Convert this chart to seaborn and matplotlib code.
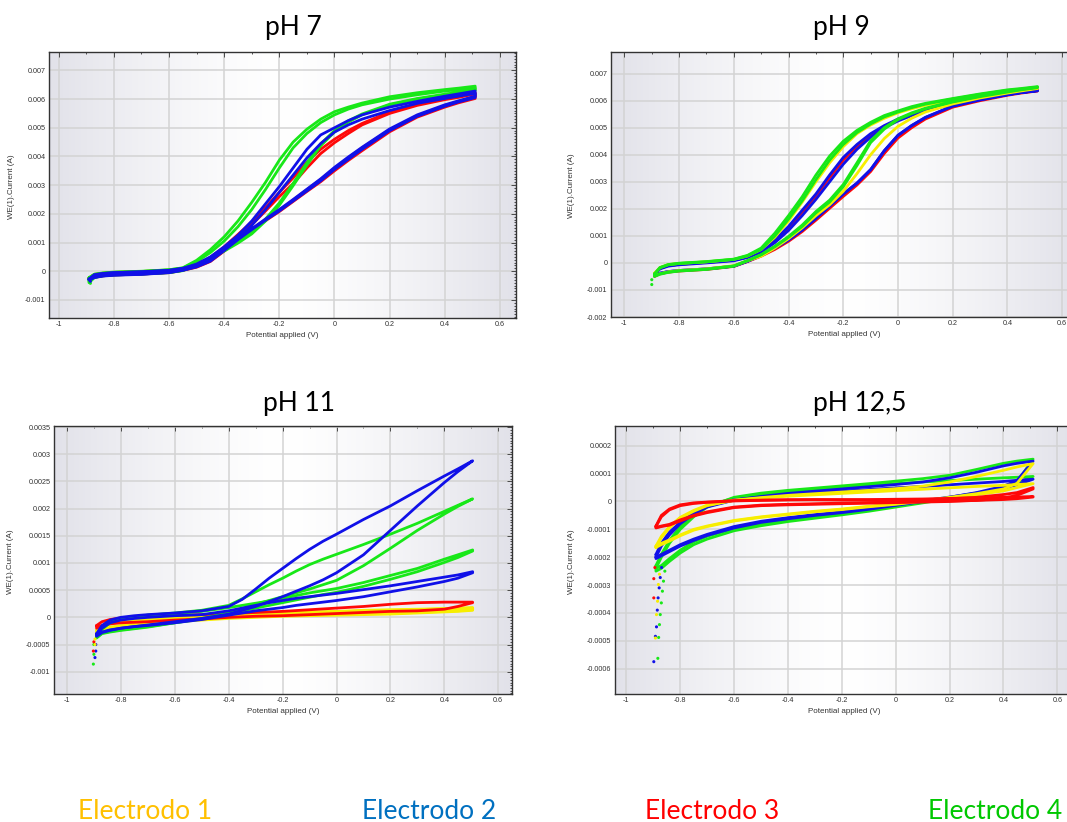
import numpy as np
import pandas as pd
import matplotlib
matplotlib.use("Agg")
import matplotlib.pyplot as plt
from matplotlib.ticker import MultipleLocator, AutoMinorLocator, FuncFormatter
import seaborn as sns

sns.set_theme(style="white")
plt.rcParams["font.family"] = ["Liberation Sans", "DejaVu Sans"]

# Potential grids (V) shared by the forward / reverse branches
E_hi = [-0.89, -0.87, -0.84, -0.8, -0.7, -0.6, -0.55, -0.5, -0.45, -0.4, -0.35, -0.3, -0.25,
        -0.2, -0.15, -0.1, -0.05, 0.0, 0.05, 0.1, 0.2, 0.3, 0.4, 0.45, 0.51]
E_11 = [-0.89, -0.87, -0.84, -0.8, -0.75, -0.7, -0.6, -0.5, -0.4, -0.35, -0.3, -0.25, -0.2,
        -0.15, -0.1, -0.05, 0.0, 0.1, 0.2, 0.3, 0.4, 0.45, 0.505]
E_lo = [-0.89, -0.87, -0.84, -0.8, -0.75, -0.7, -0.6, -0.5, -0.4, -0.3, -0.2, -0.1, 0.0,
        0.1, 0.2, 0.3, 0.4, 0.45, 0.51]

# ---- pH 7 currents (mA), upper / lower branch ----
ph7_green_up_a = [-0.25, -0.12, -0.07, -0.04, -0.01, 0.05, 0.12, 0.38, 0.75, 1.2, 1.75, 2.4, 3.1, 3.87, 4.5, 4.95, 5.3, 5.56, 5.72, 5.86, 6.08, 6.22, 6.33, 6.38, 6.45]
ph7_green_dn_a = [-0.4, -0.22, -0.16, -0.13, -0.1, -0.05, 0.02, 0.22, 0.45, 0.7, 0.98, 1.3, 1.75, 2.3, 2.98, 3.7, 4.37, 4.85, 5.2, 5.45, 5.8, 6.0, 6.15, 6.22, 6.3]
ph7_green_up_b = [-0.22, -0.1, -0.06, -0.03, 0.0, 0.05, 0.11, 0.33, 0.65, 1.05, 1.55, 2.15, 2.85, 3.6, 4.3, 4.8, 5.18, 5.45, 5.65, 5.8, 6.0, 6.15, 6.28, 6.33, 6.38]
ph7_green_dn_b = [-0.35, -0.2, -0.15, -0.12, -0.09, -0.04, 0.03, 0.24, 0.48, 0.74, 1.02, 1.36, 1.82, 2.38, 3.06, 3.78, 4.44, 4.9, 5.24, 5.48, 5.82, 6.02, 6.17, 6.24, 6.32]
ph7_blue_up_a = [-0.28, -0.13, -0.08, -0.05, -0.02, 0.03, 0.1, 0.25, 0.5, 0.85, 1.25, 1.75, 2.35, 2.95, 3.6, 4.25, 4.75, 5.0, 5.25, 5.45, 5.72, 5.92, 6.1, 6.18, 6.28]
ph7_blue_dn_a = [-0.3, -0.22, -0.17, -0.14, -0.11, -0.05, 0.03, 0.15, 0.35, 0.72, 1.1, 1.45, 1.78, 2.1, 2.45, 2.8, 3.15, 3.55, 3.9, 4.25, 4.9, 5.4, 5.75, 5.9, 6.05]
ph7_blue_up_b = [-0.27, -0.12, -0.08, -0.05, -0.02, 0.03, 0.1, 0.22, 0.45, 0.78, 1.15, 1.6, 2.15, 2.75, 3.35, 3.95, 4.45, 4.85, 5.1, 5.3, 5.6, 5.85, 6.02, 6.1, 6.2]
ph7_blue_dn_b = [-0.3, -0.21, -0.16, -0.13, -0.1, -0.04, 0.04, 0.17, 0.38, 0.75, 1.13, 1.48, 1.82, 2.15, 2.5, 2.86, 3.22, 3.62, 3.98, 4.32, 4.96, 5.45, 5.8, 5.94, 6.1]
ph7_red_up_a = [-0.25, -0.12, -0.08, -0.05, -0.02, 0.03, 0.1, 0.2, 0.45, 0.8, 1.2, 1.62, 2.1, 2.6, 3.05, 3.6, 4.1, 4.48, 4.8, 5.1, 5.5, 5.78, 5.98, 6.06, 6.18]
ph7_red_dn_a = [-0.28, -0.21, -0.16, -0.13, -0.1, -0.05, 0.03, 0.14, 0.34, 0.7, 1.08, 1.43, 1.76, 2.08, 2.43, 2.78, 3.12, 3.5, 3.86, 4.2, 4.86, 5.37, 5.72, 5.87, 6.02]
ph7_red_up_b = [-0.24, -0.11, -0.07, -0.04, -0.01, 0.04, 0.1, 0.22, 0.48, 0.85, 1.28, 1.72, 2.22, 2.75, 3.25, 3.8, 4.25, 4.6, 4.9, 5.15, 5.55, 5.82, 6.02, 6.1, 6.22]
ph7_red_dn_b = [-0.27, -0.2, -0.15, -0.12, -0.09, -0.04, 0.04, 0.16, 0.37, 0.73, 1.1, 1.46, 1.8, 2.12, 2.48, 2.84, 3.2, 3.58, 3.95, 4.3, 4.93, 5.42, 5.77, 5.92, 6.08]

# ---- pH 9 ----
ph9_green_up_a = [-0.42, -0.18, -0.06, -0.01, 0.05, 0.14, 0.28, 0.55, 1.1, 1.75, 2.45, 3.25, 3.95, 4.5, 4.9, 5.2, 5.45, 5.62, 5.78, 5.9, 6.08, 6.25, 6.4, 6.45, 6.52]
ph9_green_dn_a = [-0.5, -0.42, -0.35, -0.3, -0.24, -0.12, 0.08, 0.3, 0.6, 0.95, 1.35, 1.85, 2.25, 2.82, 3.6, 4.45, 4.95, 5.3, 5.52, 5.7, 5.95, 6.15, 6.32, 6.4, 6.48]
ph9_green_up_b = [-0.4, -0.17, -0.07, -0.02, 0.04, 0.13, 0.26, 0.5, 1.0, 1.62, 2.3, 3.08, 3.8, 4.38, 4.82, 5.14, 5.4, 5.58, 5.74, 5.87, 6.06, 6.23, 6.38, 6.43, 6.5]
ph9_green_dn_b = [-0.48, -0.4, -0.34, -0.29, -0.23, -0.11, 0.09, 0.31, 0.62, 0.98, 1.4, 1.9, 2.32, 2.9, 3.7, 4.52, 5.0, 5.33, 5.55, 5.72, 5.97, 6.17, 6.34, 6.42, 6.5]
ph9_yellow_up = [-0.38, -0.17, -0.06, -0.02, 0.04, 0.13, 0.26, 0.5, 0.95, 1.55, 2.25, 3.0, 3.7, 4.3, 4.78, 5.1, 5.35, 5.55, 5.7, 5.83, 6.03, 6.2, 6.35, 6.4, 6.47]
ph9_yellow_dn = [-0.48, -0.4, -0.33, -0.28, -0.22, -0.1, 0.08, 0.25, 0.55, 0.9, 1.3, 1.75, 2.15, 2.65, 3.3, 4.0, 4.6, 5.05, 5.35, 5.58, 5.88, 6.1, 6.28, 6.36, 6.45]
ph9_blue_up_a = [-0.4, -0.2, -0.1, -0.05, 0.02, 0.1, 0.22, 0.45, 0.85, 1.35, 1.95, 2.55, 3.25, 3.9, 4.38, 4.78, 5.08, 5.32, 5.5, 5.66, 5.9, 6.08, 6.25, 6.32, 6.38]
ph9_blue_up_b = [-0.42, -0.22, -0.12, -0.07, 0.0, 0.08, 0.2, 0.4, 0.75, 1.2, 1.75, 2.35, 3.0, 3.65, 4.2, 4.65, 5.0, 5.25, 5.45, 5.62, 5.87, 6.06, 6.23, 6.3, 6.36]
ph9_blue_dn = [-0.48, -0.38, -0.32, -0.28, -0.22, -0.12, 0.06, 0.28, 0.55, 0.85, 1.22, 1.65, 2.1, 2.55, 2.95, 3.45, 4.15, 4.72, 5.08, 5.38, 5.8, 6.03, 6.22, 6.3, 6.38]
ph9_red_up = [-0.4, -0.2, -0.1, -0.05, 0.02, 0.1, 0.22, 0.43, 0.82, 1.3, 1.88, 2.48, 3.15, 3.8, 4.3, 4.72, 5.04, 5.3, 5.48, 5.64, 5.88, 6.06, 6.24, 6.31, 6.37]
ph9_red_dn = [-0.5, -0.4, -0.34, -0.3, -0.24, -0.13, 0.05, 0.25, 0.5, 0.8, 1.16, 1.58, 2.02, 2.46, 2.88, 3.38, 4.05, 4.62, 5.0, 5.32, 5.76, 6.0, 6.2, 6.28, 6.36]

# ---- pH 11 ----
ph11_blue_up_a = [-0.3, -0.15, -0.05, 0.0, 0.03, 0.05, 0.08, 0.12, 0.2, 0.33, 0.52, 0.72, 0.9, 1.08, 1.25, 1.4, 1.53, 1.8, 2.05, 2.33, 2.6, 2.73, 2.88]
ph11_blue_dn_a = [-0.35, -0.28, -0.24, -0.2, -0.17, -0.14, -0.08, -0.02, 0.06, 0.13, 0.2, 0.29, 0.38, 0.48, 0.58, 0.69, 0.82, 1.15, 1.6, 2.05, 2.48, 2.68, 2.88]
ph11_blue_up_b = [-0.32, -0.2, -0.1, -0.05, -0.02, 0.0, 0.03, 0.05, 0.12, 0.17, 0.22, 0.27, 0.31, 0.35, 0.38, 0.41, 0.44, 0.51, 0.58, 0.66, 0.74, 0.78, 0.84]
ph11_blue_dn_b = [-0.33, -0.27, -0.23, -0.2, -0.17, -0.15, -0.1, -0.04, 0.04, 0.08, 0.12, 0.15, 0.18, 0.22, 0.25, 0.28, 0.31, 0.38, 0.47, 0.56, 0.66, 0.72, 0.82]
ph11_green_up_a = [-0.36, -0.22, -0.1, -0.03, 0.01, 0.04, 0.08, 0.13, 0.22, 0.34, 0.47, 0.6, 0.72, 0.85, 0.97, 1.07, 1.16, 1.34, 1.53, 1.73, 1.95, 2.06, 2.18]
ph11_green_dn_a = [-0.38, -0.3, -0.27, -0.24, -0.21, -0.18, -0.1, -0.02, 0.08, 0.16, 0.24, 0.31, 0.38, 0.45, 0.52, 0.6, 0.68, 0.95, 1.27, 1.6, 1.9, 2.04, 2.18]
ph11_green_up_b = [-0.34, -0.2, -0.09, -0.03, 0.01, 0.04, 0.07, 0.11, 0.18, 0.22, 0.26, 0.3, 0.35, 0.4, 0.45, 0.49, 0.53, 0.64, 0.77, 0.9, 1.07, 1.15, 1.24]
ph11_green_dn_b = [-0.37, -0.29, -0.26, -0.23, -0.2, -0.17, -0.1, -0.03, 0.06, 0.12, 0.17, 0.22, 0.27, 0.32, 0.37, 0.42, 0.46, 0.57, 0.7, 0.84, 1.01, 1.1, 1.22]
ph11_red_up = [-0.15, -0.08, -0.04, -0.01, 0.01, 0.02, 0.04, 0.05, 0.07, 0.08, 0.09, 0.1, 0.11, 0.125, 0.14, 0.155, 0.17, 0.2, 0.24, 0.27, 0.28, 0.28, 0.28]
ph11_red_dn = [-0.2, -0.15, -0.12, -0.1, -0.09, -0.08, -0.05, -0.03, 0.0, 0.01, 0.02, 0.025, 0.03, 0.04, 0.05, 0.06, 0.07, 0.09, 0.11, 0.12, 0.15, 0.2, 0.27]
ph11_yellow_up_a = [-0.25, -0.18, -0.12, -0.08, -0.06, -0.04, -0.01, 0.01, 0.03, 0.04, 0.05, 0.06, 0.07, 0.08, 0.09, 0.095, 0.1, 0.12, 0.13, 0.14, 0.16, 0.16, 0.17]
ph11_yellow_dn_a = [-0.3, -0.25, -0.2, -0.17, -0.14, -0.12, -0.08, -0.05, -0.02, -0.01, 0.0, 0.01, 0.02, 0.025, 0.03, 0.035, 0.04, 0.05, 0.06, 0.08, 0.1, 0.11, 0.13]
ph11_yellow_up_b = [-0.24, -0.16, -0.11, -0.07, -0.05, -0.03, 0.0, 0.02, 0.04, 0.05, 0.06, 0.07, 0.08, 0.09, 0.1, 0.105, 0.11, 0.13, 0.14, 0.15, 0.16, 0.17, 0.18]
ph11_yellow_dn_b = [-0.28, -0.23, -0.18, -0.15, -0.12, -0.1, -0.06, -0.03, 0.0, 0.01, 0.02, 0.028, 0.035, 0.04, 0.045, 0.05, 0.055, 0.065, 0.075, 0.09, 0.11, 0.12, 0.14]

# ---- pH 12,5 ----
ph12_green_up_a = [-0.24, -0.2, -0.15, -0.1, -0.055, -0.02, 0.015, 0.03, 0.04, 0.048, 0.056, 0.064, 0.073, 0.082, 0.094, 0.115, 0.137, 0.145, 0.152]
ph12_green_dn_a = [-0.25, -0.24, -0.215, -0.185, -0.155, -0.135, -0.105, -0.087, -0.072, -0.06, -0.048, -0.035, -0.02, -0.005, 0.01, 0.025, 0.045, 0.07, 0.152]
ph12_green_up_b = [-0.23, -0.19, -0.14, -0.09, -0.05, -0.015, 0.012, 0.025, 0.034, 0.042, 0.05, 0.057, 0.064, 0.07, 0.075, 0.08, 0.085, 0.087, 0.09]
ph12_green_dn_b = [-0.24, -0.23, -0.205, -0.175, -0.145, -0.125, -0.097, -0.08, -0.066, -0.054, -0.042, -0.03, -0.016, -0.002, 0.013, 0.03, 0.05, 0.065, 0.09]
ph12_blue_up_a = [-0.2, -0.16, -0.12, -0.08, -0.045, -0.02, 0.005, 0.018, 0.029, 0.037, 0.045, 0.053, 0.061, 0.07, 0.085, 0.105, 0.128, 0.137, 0.145]
ph12_blue_dn_a = [-0.205, -0.195, -0.18, -0.16, -0.14, -0.122, -0.095, -0.075, -0.062, -0.05, -0.04, -0.028, -0.014, 0.0, 0.015, 0.032, 0.055, 0.075, 0.145]
ph12_blue_up_b = [-0.19, -0.15, -0.11, -0.075, -0.04, -0.017, 0.006, 0.016, 0.025, 0.031, 0.037, 0.043, 0.049, 0.054, 0.06, 0.066, 0.072, 0.076, 0.08]
ph12_blue_dn_b = [-0.2, -0.19, -0.175, -0.155, -0.135, -0.118, -0.09, -0.071, -0.058, -0.047, -0.037, -0.025, -0.012, 0.002, 0.016, 0.03, 0.048, 0.06, 0.08]
ph12_yellow_up_a = [-0.165, -0.13, -0.095, -0.06, -0.035, -0.015, 0.005, 0.014, 0.022, 0.028, 0.034, 0.04, 0.046, 0.055, 0.07, 0.09, 0.112, 0.124, 0.136]
ph12_yellow_dn_a = [-0.16, -0.15, -0.138, -0.12, -0.1, -0.088, -0.068, -0.055, -0.045, -0.035, -0.027, -0.017, -0.008, 0.003, 0.015, 0.028, 0.045, 0.065, 0.136]
ph12_yellow_up_b = [-0.16, -0.125, -0.09, -0.057, -0.032, -0.013, 0.004, 0.012, 0.019, 0.024, 0.029, 0.034, 0.039, 0.044, 0.049, 0.054, 0.058, 0.061, 0.064]
ph12_yellow_dn_b = [-0.165, -0.155, -0.142, -0.123, -0.103, -0.09, -0.07, -0.057, -0.047, -0.037, -0.029, -0.019, -0.01, 0.001, 0.012, 0.024, 0.038, 0.05, 0.064]
ph12_red_up_a = [-0.09, -0.055, -0.03, -0.015, -0.007, -0.003, 0.002, 0.004, 0.006, 0.006, 0.005, 0.005, 0.005, 0.007, 0.01, 0.015, 0.025, 0.032, 0.05]
ph12_red_dn_a = [-0.095, -0.09, -0.085, -0.07, -0.052, -0.04, -0.022, -0.015, -0.012, -0.01, -0.008, -0.006, -0.004, -0.002, 0.0, 0.004, 0.012, 0.022, 0.045]
ph12_red_up_b = [-0.088, -0.05, -0.027, -0.012, -0.005, -0.002, 0.003, 0.005, 0.006, 0.007, 0.007, 0.007, 0.008, 0.009, 0.011, 0.013, 0.015, 0.016, 0.018]
ph12_red_dn_b = [-0.093, -0.088, -0.082, -0.066, -0.05, -0.037, -0.02, -0.013, -0.01, -0.008, -0.006, -0.004, -0.002, 0.0, 0.002, 0.004, 0.007, 0.01, 0.016]

# start-of-scan dots at the negative end (E in V, I in mA)
tail7_E = [-0.885, -0.885]
tail7_I = [-0.42, -0.35]
tail7_el = ["Electrodo 4", "Electrodo 2"]
tail9_E = [-0.9, -0.9]
tail9_I = [-0.62, -0.8]
tail9_el = ["Electrodo 4", "Electrodo 4"]
tail11_E = [-0.9, -0.9, -0.902, -0.893, -0.893, -0.896, -0.9, -0.902, -0.896, -0.896]
tail11_I = [-0.5, -0.68, -0.86, -0.5, -0.62, -0.74, -0.45, -0.62, -0.4, -0.5]
tail11_el = ["Electrodo 4"] * 3 + ["Electrodo 2"] * 3 + ["Electrodo 3"] * 2 + ["Electrodo 1"] * 2
tail12_E = [-0.898, -0.892, -0.888, -0.885, -0.882, -0.878, -0.874, -0.869,
            -0.883, -0.88, -0.877, -0.874, -0.87, -0.866, -0.862, -0.857, -0.851,
            -0.898, -0.898, -0.894,
            -0.892, -0.888, -0.884, -0.881, -0.877]
tail12_I = [-0.575, -0.484, -0.45, -0.39, -0.346, -0.31, -0.273, -0.237,
            -0.563, -0.488, -0.442, -0.406, -0.364, -0.322, -0.286, -0.25, -0.22,
            -0.346, -0.277, -0.237,
            -0.49, -0.406, -0.358, -0.298, -0.261]
tail12_el = ["Electrodo 2"] * 8 + ["Electrodo 4"] * 9 + ["Electrodo 3"] * 3 + ["Electrodo 1"] * 5

electrodes = ["Electrodo 1", "Electrodo 2", "Electrodo 3", "Electrodo 4"]
line_colors = {"Electrodo 1": "#f7ee00", "Electrodo 2": "#1010e8",
               "Electrodo 3": "#ff0808", "Electrodo 4": "#18e818"}
label_colors = ["#ffc000", "#0070c0", "#ff0000", "#00c800"]


def cycle(E, up, dn, electrode, tag):
    x = list(E) + list(E)[::-1] + [E[0]]
    y = list(up) + list(dn)[::-1] + [up[0]]
    return pd.DataFrame({"E": x, "I": np.array(y) * 1e-3, "electrode": electrode, "loop": tag})


def tails(E, I, el):
    return pd.DataFrame({"E": E, "I": np.array(I) * 1e-3, "electrode": el})


def fmt(v, _):
    return f"{round(v, 7) + 0.0:g}"


def style_axes(ax, xlim, ylim, ystep):
    # grey-white-grey background band like the instrument software
    u = np.linspace(0, 1, 256)
    w = 1 - np.abs(u - 0.5) ** 1.4 * 2 ** 1.4
    edge = np.array([0.885, 0.885, 0.915])
    rgb = edge[None, :] * (1 - w[:, None]) + w[:, None]
    ax.imshow(rgb[None, :, :], extent=[0, 1, 0, 1], transform=ax.transAxes,
              aspect="auto", interpolation="bilinear", zorder=0)
    ax.set_xlim(*xlim)
    ax.set_ylim(*ylim)
    ax.xaxis.set_major_locator(MultipleLocator(0.2))
    ax.xaxis.set_minor_locator(MultipleLocator(0.1))
    ax.yaxis.set_major_locator(MultipleLocator(ystep))
    ax.yaxis.set_minor_locator(AutoMinorLocator(10))
    ax.xaxis.set_major_formatter(FuncFormatter(fmt))
    ax.yaxis.set_major_formatter(FuncFormatter(fmt))
    ax.grid(True, which="major", color="#d3d3d3", lw=1.1)
    ax.set_axisbelow(True)
    ax.tick_params(which="both", direction="in", top=True, right=True,
                   colors="#333333", labelsize=5.2, width=0.6, pad=2.5)
    ax.tick_params(which="major", length=3.5)
    ax.tick_params(which="minor", length=1.6)
    for s in ax.spines.values():
        s.set_color("#333333")
        s.set_linewidth(1.0)
    ax.set_xlabel("Potential applied (V)", fontsize=5.8, color="#333333")
    ax.set_ylabel("WE(1).Current (A)", fontsize=5.8, color="#333333")


W, H = 1067, 822
fig = plt.figure(figsize=(W / 100, H / 100), dpi=100)
fig.patch.set_facecolor("white")

ax7 = fig.add_axes([49 / W, 1 - 318 / H, 467 / W, 266 / H])
ax9 = fig.add_axes([611 / W, 1 - 317 / H, 467 / W, 265 / H])
ax11 = fig.add_axes([54 / W, 1 - 694 / H, 458 / W, 268 / H])
ax12 = fig.add_axes([615 / W, 1 - 694 / H, 458 / W, 268 / H])

ph7 = pd.concat([
    cycle(E_hi, ph7_red_up_a, ph7_red_dn_a, "Electrodo 3", "a"),
    cycle(E_hi, ph7_red_up_b, ph7_red_dn_b, "Electrodo 3", "b"),
    cycle(E_hi, ph7_green_up_a, ph7_green_dn_a, "Electrodo 4", "a"),
    cycle(E_hi, ph7_green_up_b, ph7_green_dn_b, "Electrodo 4", "b"),
    cycle(E_hi, ph7_blue_up_a, ph7_blue_dn_a, "Electrodo 2", "a"),
    cycle(E_hi, ph7_blue_up_b, ph7_blue_dn_b, "Electrodo 2", "b"),
])
ph9 = pd.concat([
    cycle(E_hi, ph9_red_up, ph9_red_dn, "Electrodo 3", "a"),
    cycle(E_hi, ph9_blue_up_a, ph9_blue_dn, "Electrodo 2", "a"),
    cycle(E_hi, ph9_blue_up_b, ph9_blue_dn, "Electrodo 2", "b"),
    cycle(E_hi, ph9_yellow_up, ph9_yellow_dn, "Electrodo 1", "a"),
    cycle(E_hi, ph9_green_up_a, ph9_green_dn_a, "Electrodo 4", "a"),
    cycle(E_hi, ph9_green_up_b, ph9_green_dn_b, "Electrodo 4", "b"),
])
ph11 = pd.concat([
    cycle(E_11, ph11_yellow_up_a, ph11_yellow_dn_a, "Electrodo 1", "a"),
    cycle(E_11, ph11_yellow_up_b, ph11_yellow_dn_b, "Electrodo 1", "b"),
    cycle(E_11, ph11_red_up, ph11_red_dn, "Electrodo 3", "a"),
    cycle(E_11, ph11_green_up_a, ph11_green_dn_a, "Electrodo 4", "a"),
    cycle(E_11, ph11_green_up_b, ph11_green_dn_b, "Electrodo 4", "b"),
    cycle(E_11, ph11_blue_up_a, ph11_blue_dn_a, "Electrodo 2", "a"),
    cycle(E_11, ph11_blue_up_b, ph11_blue_dn_b, "Electrodo 2", "b"),
])
ph12 = pd.concat([
    cycle(E_lo, ph12_green_up_a, ph12_green_dn_a, "Electrodo 4", "a"),
    cycle(E_lo, ph12_green_up_b, ph12_green_dn_b, "Electrodo 4", "b"),
    cycle(E_lo, ph12_blue_up_a, ph12_blue_dn_a, "Electrodo 2", "a"),
    cycle(E_lo, ph12_blue_up_b, ph12_blue_dn_b, "Electrodo 2", "b"),
    cycle(E_lo, ph12_yellow_up_a, ph12_yellow_dn_a, "Electrodo 1", "a"),
    cycle(E_lo, ph12_yellow_up_b, ph12_yellow_dn_b, "Electrodo 1", "b"),
    cycle(E_lo, ph12_red_up_a, ph12_red_dn_a, "Electrodo 3", "a"),
    cycle(E_lo, ph12_red_up_b, ph12_red_dn_b, "Electrodo 3", "b"),
])

panels = [
    (ax7, ph7, tails(tail7_E, tail7_I, tail7_el), ["Electrodo 3", "Electrodo 4", "Electrodo 2"],
     (-1.035, 0.658), (-0.00163, 0.00764), 0.001, (-0.073, -0.066)),
    (ax9, ph9, tails(tail9_E, tail9_I, tail9_el), ["Electrodo 3", "Electrodo 2", "Electrodo 1", "Electrodo 4"],
     (-1.049, 0.658), (-0.002, 0.0078), 0.001, (-0.077, -0.066)),
    (ax11, ph11, tails(tail11_E, tail11_I, tail11_el), ["Electrodo 1", "Electrodo 3", "Electrodo 4", "Electrodo 2"],
     (-1.048, 0.651), (-0.00141, 0.00352), 0.0005, (-0.087, -0.066)),
    (ax12, ph12, tails(tail12_E, tail12_I, tail12_el), ["Electrodo 4", "Electrodo 2", "Electrodo 1", "Electrodo 3"],
     (-1.042, 0.658), (-0.000691, 0.000271), 0.0001, (-0.087, -0.066)),
]

for ax, df, tail, order, xlim, ylim, ystep, lab in panels:
    sns.lineplot(data=df, x="E", y="I", hue="electrode", units="loop", estimator=None,
                 sort=False, hue_order=order, palette=line_colors, linewidth=2.0,
                 legend=False, ax=ax, zorder=2)
    sns.scatterplot(data=tail, x="E", y="I", hue="electrode", palette=line_colors,
                    s=5, marker="o", linewidth=0, legend=False, ax=ax, zorder=3)
    style_axes(ax, xlim, ylim, ystep)
    ax.yaxis.set_label_coords(lab[0], 0.494)
    ax.xaxis.set_label_coords(0.5, lab[1])
    ax.xaxis.label.set_va("center")

title_font = ["Lato", "DejaVu Sans"]
for x, y, t in [(265, 35, "pH 7"), (813, 35, "pH 9"), (263, 411, "pH 11"), (813, 411, "pH 12,5")]:
    fig.text(x / W, 1 - y / H, t, fontsize=19, family=title_font, color="black",
             ha="left", va="baseline")

for x, name, c in zip([78, 362, 645, 928], electrodes, label_colors):
    fig.text(x / W, 1 - 819 / H, name, fontsize=19, family=title_font, color=c,
             ha="left", va="baseline")

fig.savefig("out.png", dpi=100)
